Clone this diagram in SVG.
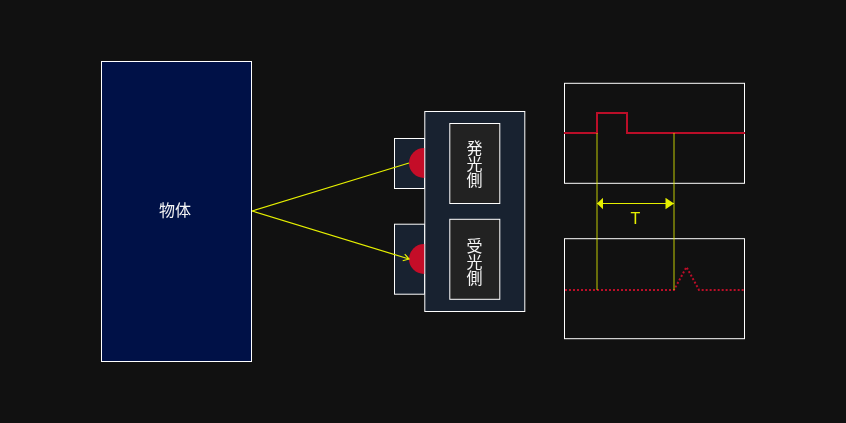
<svg xmlns="http://www.w3.org/2000/svg" width="846" height="423" viewBox="0 0 846 423">
<style>
.box{stroke:#fff;stroke-width:1}
.sens{fill:#182230}
.inner{fill:#222}
.chart{fill:#111}
.lens{fill:#c40d28}
.lbl{font-family:"Noto Sans CJK JP","Noto Sans CJK SC",sans-serif;font-size:16px;fill:#f4f4f4;text-anchor:middle;filter:url(#gray)}
.vert{writing-mode:vertical-rl}
.ray{fill:none;stroke:#e6f000;stroke-width:1.200}
.guide{fill:none;stroke:#e6f000;stroke-opacity:.55;stroke-width:1.500}
.sig{fill:none;stroke:#bb0e28;stroke-width:2}
</style>
<defs>
<filter id="gray" x="-20%" y="-20%" width="140%" height="140%"><feOffset dx="0" dy="0"/></filter>
<marker id="open" markerUnits="userSpaceOnUse" markerWidth="10" markerHeight="10" refX="7" refY="5" orient="auto"><path d="M1.500 1.500L7 5L1.500 8.500" fill="none" stroke="#e6f000" stroke-width="1.200"/></marker>
<marker id="solid-start" markerUnits="userSpaceOnUse" markerWidth="8" markerHeight="12" refX="0.500" refY="6" orient="0"><path d="M0.500 6L6.500 0.300V11.700Z" fill="#e6f000"/></marker>
<marker id="solid-end" markerUnits="userSpaceOnUse" markerWidth="10" markerHeight="12" refX="9" refY="6" orient="0"><path d="M0.500 0.300L9 6L0.500 11.700Z" fill="#e6f000"/></marker>
</defs>
<rect width="846" height="423" fill="#111"/>
<g id="object"><rect class="box" x="101.500" y="61.500" width="150" height="300" fill="#001147"/><text class="lbl" x="175" y="216">物体</text></g>
<g id="emitter-head"><rect class="box sens" x="394.500" y="138.500" width="30" height="50"/><circle class="lens" cx="424" cy="163" r="15"/></g>
<g id="receiver-head"><rect class="box sens" x="394.500" y="224.200" width="30" height="70"/><circle class="lens" cx="424" cy="259" r="15"/></g>
<g id="sensor"><rect class="box sens" x="424.800" y="111.500" width="100" height="200"/></g>
<g id="emitter"><rect class="box inner" x="449.800" y="123.500" width="50" height="80"/><text class="lbl vert" x="474.500" y="163.500">発光側</text></g>
<g id="receiver"><rect class="box inner" x="449.800" y="219.300" width="50" height="80"/><text class="lbl vert" x="474.500" y="262">受光側</text></g>
<g id="chart-top"><rect class="box chart" x="564.500" y="83.300" width="180" height="100"/></g>
<g id="chart-bottom"><rect class="box chart" x="564.500" y="238.700" width="180" height="100"/></g>
<g id="connectors">
<path class="ray" d="M252 211L409 163"/>
<path class="ray" d="M252 211L409 259" marker-end="url(#open)"/>
<path class="sig" d="M564 133H597V113H627V133H745"/>
<path class="sig" stroke-dasharray="2 2" d="M565 290H674L686.500 267L699 290H745"/>
<path class="guide" d="M597 133V290M674 133V290"/>
<path class="ray" d="M597 203.500H674" marker-start="url(#solid-start)" marker-end="url(#solid-end)"/>
</g>
<text x="635.500" y="224" font-family="'Liberation Sans',sans-serif" font-size="16" fill="#e6f000" text-anchor="middle" filter="url(#gray)">T</text>
</svg>
